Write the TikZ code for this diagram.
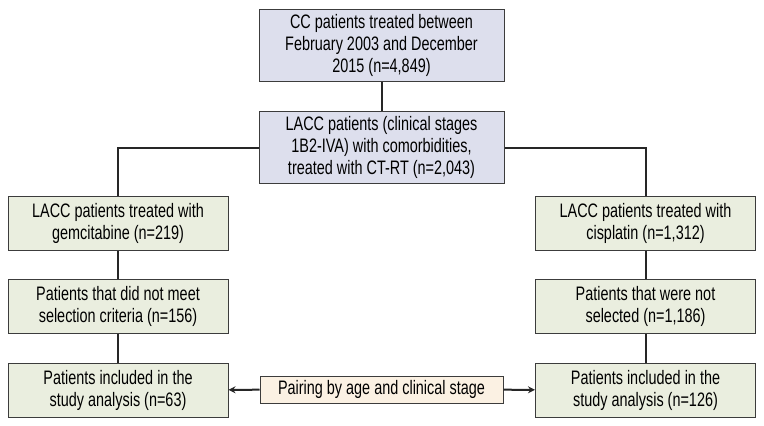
\documentclass[tikz,border=0pt]{standalone}
\usepackage{fontspec}
\setmainfont[FakeStretch=0.74]{Liberation Sans}
\usetikzlibrary{arrows.meta, positioning}
\definecolor{boxline}{RGB}{60,60,60}
\definecolor{lavender}{RGB}{221,223,237}
\definecolor{sage}{RGB}{234,238,223}
\definecolor{sand}{RGB}{251,241,227}

\begin{document}
\begin{tikzpicture}
  [x=1pt, y=-1pt,
   box/.style={rectangle, draw=boxline, line width=1pt, align=center,
     inner sep=2pt, font=\fontsize{19.5}{22}\selectfont},
   topbox/.style={box, fill=lavender, minimum width=245pt, minimum height=72pt},
   armbox/.style={box, fill=sage, minimum width=220pt, minimum height=54pt},
   pairbox/.style={box, fill=sand, minimum width=243pt, minimum height=27pt},
   link/.style={draw=black!85, line width=2pt}]
  \useasboundingbox (0,0) rectangle (764,426);
  % top of the chart
  \node (all) at (381.5, 45) [topbox] {CC patients treated between\\February 2003 and December\\2015 (n=4,849)};
  \node (lacc) at (381.5, 147.5) [topbox] {LACC patients (clinical stages\\1B2-IVA) with comorbidities,\\treated with CT-RT (n=2,043)};
  % the two arms
  \node (gem1) at (118, 223.5) [armbox] {LACC patients treated with\\gemcitabine (n=219)};
  \node (gem2) at (118, 306) [armbox] {Patients that did not meet\\selection criteria (n=156)};
  \node (gem3) at (118, 390) [armbox] {Patients included in the\\study analysis (n=63)};
  \node (cis1) at (645.5, 223.5) [armbox] {LACC patients treated with\\cisplatin (n=1,312)};
  \node (cis2) at (645.5, 306) [armbox] {Patients that were not\\selected (n=1,186)};
  \node (cis3) at (645.5, 390) [armbox] {Patients included in the\\study analysis (n=126)};
  \node (pair) at (381.5, 389.5) [pairbox] {Pairing by age and clinical stage};

  \draw [link] (all) to (lacc);
  \draw [link] (lacc.west) -| (gem1.north);
  \draw [link] (lacc.east) -| (cis1.north);
  \draw [link] (gem1) to (gem2);
  \draw [link] (gem2) to (gem3);
  \draw [link] (cis1) to (cis2);
  \draw [link] (cis2) to (cis3);
  \draw [link, -{Stealth[length=7pt, width=7pt]}] (pair) to (gem3);
  \draw [link, -{Stealth[length=7pt, width=7pt]}] (pair) to (cis3);
\end{tikzpicture}
\end{document}
